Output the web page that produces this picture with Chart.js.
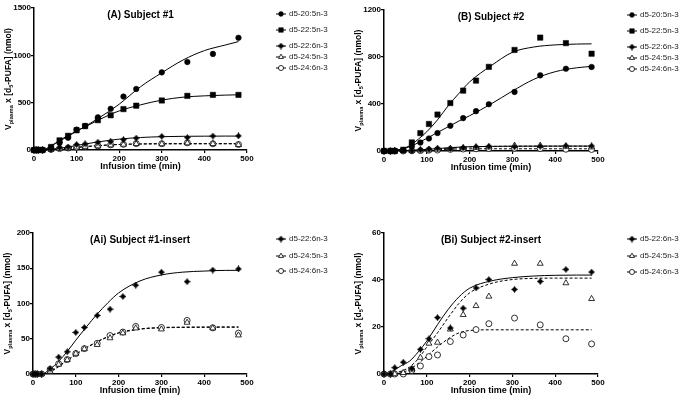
<!DOCTYPE html>
<html lang="en">
<head>
  <meta charset="UTF-8" />
  <title>d5-PUFA infusion</title>
  <script src="https://cdn.jsdelivr.net/npm/chart.js"></script>
  <style>
    body {
      margin: 0;
      background: #fff;
      width: 683px;
      height: 402px;
      position: relative;
      overflow: hidden;
    }
    canvas { position: absolute; }
  </style>
</head>
<body>
  <canvas id="chartA" width="340" height="200" style="left:0;top:0"></canvas>
  <canvas id="chartB" width="343" height="200" style="left:340px;top:0"></canvas>
  <canvas id="chartAi" width="340" height="202" style="left:0;top:200px"></canvas>
  <canvas id="chartBi" width="343" height="202" style="left:340px;top:200px"></canvas>

  <script>
    // sampling times (min)
    const timesS1 = [0, 5, 10, 20, 40, 60, 80, 100, 120, 150, 180, 210, 240, 300, 360, 420, 480];
    const timesS2 = [0, 15, 25, 45, 65, 85, 105, 125, 155, 185, 215, 245, 305, 365, 425, 485];

    // subject #1 measured values (nmol)
    const s1_205 = [0, 0, 0, 0, 25, 75, 130, 215, 255, 345, 435, 565, 645, 820, 930, 1015, 1185];
    const s1_225 = [0, 0, 0, 0, 32, 102, 150, 208, 252, 315, 367, 432, 468, 523, 572, 582, 582];
    const s1_226 = [0, 0, 0, 0, 7.5, 24, 31.5, 59, 66, 83, 92, 110, 126, 144.5, 131, 147.5, 149];
    const s1_245 = [0, 0, 0, 0, 3.5, 13.5, 20, 29, 35.5, 41.5, 51, 58, 65, 63.5, 73, 65, 55];
    const s1_246 = [0, 0, 0, 0, 6.5, 14.5, 20.5, 29, 36, 43.5, 54.5, 59.5, 67.5, 66, 76, 65.5, 58];

    // subject #2 measured values (nmol)
    const s2_205 = [0, 0, 0, 8, 38, 72, 107, 153, 215, 280, 339, 398, 503, 644, 700, 715];
    const s2_225 = [0, 0, 0, 10, 73, 152, 230, 310, 408, 514, 599, 716, 860, 965, 918, 828];
    const s2_226 = [0, 0, 2.7, 5, 2.3, 10.5, 15, 24, 19.6, 28, 36.6, 40.2, 36, 39.4, 44.5, 43.4];
    const s2_245 = [0, 0, 0, 0.5, 2, 7, 13, 13.4, 19, 25.2, 29, 33, 47, 47, 38.7, 32];
    const s2_246 = [0, 0, 0, 0, 1.5, 3.4, 7.4, 8.1, 13.8, 16.6, 18.9, 21.4, 23.8, 20.9, 15, 12.8];

    // fitted curves
    const fitT1 = [0, 20, 40, 60, 80, 100, 125, 150, 175, 200, 250, 300, 350, 400, 450, 480];
    const fit1_205 = [0, 0, 42, 95, 145, 198, 262, 332, 405, 484, 668, 816, 951, 1050, 1110, 1145];
    const fit1_225 = [0, 0, 42, 102, 152, 201, 256, 314, 367, 413, 477, 527, 558, 572, 580, 583];
    const fit1_226 = [0, 0, 7, 18, 32, 48, 67, 85, 101, 115, 132, 140.5, 144.5, 146, 147, 147];
    const fit1_245 = [0, 0, 3, 10.5, 19, 27.5, 37, 45.5, 52.5, 58, 63.5, 65.5, 66, 66.2, 66.3, 66.3];
    const fit1_246 = [0, 0, 3.5, 11, 19.5, 28, 37.5, 46, 53, 58.5, 64, 66, 66.5, 66.7, 66.8, 66.8];

    const fitT2 = [0, 20, 40, 60, 80, 100, 125, 150, 175, 200, 250, 300, 350, 400, 450, 485];
    const fit2_205 = [0, 3, 15, 37, 70, 107, 158, 206, 255, 300, 400, 510, 610, 675, 708, 720];
    const fit2_225 = [0, 3, 15, 45, 100, 164, 265, 385, 490, 588, 725, 840, 885, 903, 910, 912];
    const fit2_226 = [0, 1.3, 3.5, 5.5, 9.4, 14, 21, 27.5, 32.8, 36.5, 39.6, 41, 41.7, 42, 42.1, 42.1];
    const fit2_245 = [0, 0.3, 1.2, 3, 6.5, 11.5, 17.5, 24, 30, 34.5, 38.5, 40.2, 40.7, 40.8, 40.8, 40.8];
    const fit2_246 = [0, 0, 0.5, 2, 4.5, 7.5, 11.5, 15, 17.5, 18.5, 18.8, 18.8, 18.8, 18.8, 18.8, 18.8];

    const xTicks = [0, 100, 200, 300, 400, 500];

    function pts(xs, ys) {
      return xs.map((x, i) => ({ x: x, y: ys[i] }));
    }

    // filled 4-point star used for d5-22:6n-3
    function starImage(size) {
      const c = document.createElement('canvas');
      c.width = size; c.height = size;
      const g = c.getContext('2d');
      const m = size / 2, k = size * 0.2;
      g.beginPath();
      g.moveTo(m, 0); g.lineTo(m + k, m - k); g.lineTo(size, m); g.lineTo(m + k, m + k);
      g.lineTo(m, size); g.lineTo(m - k, m + k); g.lineTo(0, m); g.lineTo(m - k, m - k);
      g.closePath();
      g.fillStyle = '#000';
      g.fill();
      return c;
    }
    const STAR = starImage(7);

    const marks = {
      'd5-20:5n-3': { style: 'circle', r: 2.8, fill: '#000', bw: 0.5, dash: [] },
      'd5-22:5n-3': { style: 'rect', r: 3.8, fill: '#000', bw: 0.5, dash: [] },
      'd5-22:6n-3': { style: STAR, r: 3.5, fill: '#000', bw: 0, dash: [] },
      'd5-24:5n-3': { style: 'triangle', r: 3.4, fill: '#fff', bw: 0.8, dash: [3, 2] },
      'd5-24:6n-3': { style: 'circle', r: 3, fill: '#fff', bw: 0.8, dash: [3, 2] }
    };

    function buildDatasets(series) {
      const out = [];
      series.forEach(s => {
        const m = marks[s.label];
        out.push({
          label: s.label,
          data: pts(s.t, s.y),
          showLine: false,
          pointStyle: m.style,
          pointRadius: m.r,
          pointBackgroundColor: m.fill,
          pointBorderColor: '#000',
          pointBorderWidth: m.bw,
          clip: false,
          order: 1,
          legendMark: true
        });
        out.push({
          label: s.label + ' fit',
          data: pts(s.ft, s.fy),
          showLine: true,
          pointRadius: 0,
          borderColor: '#000',
          borderWidth: 1,
          borderDash: m.dash,
          cubicInterpolationMode: 'monotone',
          clip: false,
          order: 2
        });
      });
      return out;
    }

    function drawYTitle(ctx, x, y) {
      const parts = [
        ['V', 8.5, 0], ['plasma', 5.5, 2.5], [' x [d', 8.5, 0], ['5', 5.5, 2.5], ['-PUFA] (nmol)', 8.5, 0]
      ];
      let total = 0;
      parts.forEach(p => {
        ctx.font = 'bold ' + p[1] + 'px Arial, "Liberation Sans"';
        total += ctx.measureText(p[0]).width;
      });
      ctx.save();
      ctx.translate(x, y);
      ctx.rotate(-Math.PI / 2);
      ctx.textAlign = 'left';
      ctx.textBaseline = 'middle';
      let cx = -total / 2;
      parts.forEach(p => {
        ctx.font = 'bold ' + p[1] + 'px Arial, "Liberation Sans"';
        ctx.fillText(p[0], cx, p[2]);
        cx += ctx.measureText(p[0]).width;
      });
      ctx.restore();
    }

    const decor = {
      id: 'decor',
      afterDraw(chart, args, o) {
        const ctx = chart.ctx, a = chart.chartArea;
        const cx = (a.left + a.right) / 2;
        ctx.save();
        ctx.fillStyle = '#000';
        ctx.textAlign = 'center';
        ctx.textBaseline = 'middle';
        ctx.font = 'bold 10px Arial, "Liberation Sans"';
        ctx.fillText(o.title, cx, a.top + 7);
        ctx.font = 'bold 9px Arial, "Liberation Sans"';
        ctx.fillText('Infusion time (min)', cx, a.bottom + 17);
        drawYTitle(ctx, a.left - 25, (a.top + a.bottom) / 2);

        // legend
        const items = chart.data.datasets.filter(d => d.legendMark);
        const lx = a.right + 34;
        items.forEach((d, i) => {
          const ly = o.legendY[i];
          ctx.strokeStyle = '#000';
          ctx.lineWidth = 1;
          ctx.setLineDash([]);
          ctx.beginPath();
          ctx.moveTo(lx - 5, ly);
          ctx.lineTo(lx + 5, ly);
          ctx.stroke();
          ctx.fillStyle = d.pointBackgroundColor;
          ctx.lineWidth = d.pointBorderWidth;
          if (Chart.helpers && Chart.helpers.drawPoint) {
            Chart.helpers.drawPoint(ctx, {
              pointStyle: d.pointStyle, radius: d.pointRadius * 0.85,
              borderWidth: d.pointBorderWidth, rotation: 0
            }, lx, ly);
          }
          ctx.fillStyle = '#222';
          ctx.textAlign = 'left';
          ctx.font = '8px Arial, "Liberation Sans"';
          ctx.fillText(d.label, lx + 8, ly);
        });
        ctx.restore();
      }
    };

    function makePanel(id, p) {
      const canvas = document.getElementById(id);
      const W = canvas.width, H = canvas.height;
      const tickFont = { family: 'Arial, "Liberation Sans"', size: 8, weight: 'bold' };
      return new Chart(canvas, {
        type: 'scatter',
        data: { datasets: buildDatasets(p.series) },
        options: {
          responsive: false,
          animation: false,
          layout: { padding: { left: 0, top: p.box[1], right: W - p.box[2], bottom: 0 } },
          plugins: {
            legend: { display: false },
            tooltip: { enabled: false },
            decor: { title: p.title, legendY: p.legendY }
          },
          scales: {
            x: {
              type: 'linear', min: 0, max: 500,
              afterBuildTicks: s => { s.ticks = xTicks.map(v => ({ value: v })); },
              ticks: { font: tickFont, color: '#000', padding: 1, maxRotation: 0, callback: v => String(v) },
              grid: { drawOnChartArea: false, color: '#000', tickLength: 3, lineWidth: 1.2 },
              border: { color: '#000', width: 1.5 },
              afterFit: s => { s.height = H - p.box[3]; }
            },
            y: {
              type: 'linear', min: 0, max: p.yMax,
              afterBuildTicks: s => { s.ticks = p.yTicks.map(v => ({ value: v })); },
              ticks: { font: tickFont, color: '#000', padding: 0, callback: v => String(v) },
              grid: { drawOnChartArea: false, color: '#000', tickLength: 3, lineWidth: 1.2 },
              border: { color: '#000', width: 1.5 },
              afterFit: s => { s.width = p.box[0]; }
            }
          }
        },
        plugins: [decor]
      });
    }

    const s1All = [
      { label: 'd5-20:5n-3', t: timesS1, y: s1_205, ft: fitT1, fy: fit1_205 },
      { label: 'd5-22:5n-3', t: timesS1, y: s1_225, ft: fitT1, fy: fit1_225 },
      { label: 'd5-22:6n-3', t: timesS1, y: s1_226, ft: fitT1, fy: fit1_226 },
      { label: 'd5-24:5n-3', t: timesS1, y: s1_245, ft: fitT1, fy: fit1_245 },
      { label: 'd5-24:6n-3', t: timesS1, y: s1_246, ft: fitT1, fy: fit1_246 }
    ];
    const s2All = [
      { label: 'd5-20:5n-3', t: timesS2, y: s2_205, ft: fitT2, fy: fit2_205 },
      { label: 'd5-22:5n-3', t: timesS2, y: s2_225, ft: fitT2, fy: fit2_225 },
      { label: 'd5-22:6n-3', t: timesS2, y: s2_226, ft: fitT2, fy: fit2_226 },
      { label: 'd5-24:5n-3', t: timesS2, y: s2_245, ft: fitT2, fy: fit2_245 },
      { label: 'd5-24:6n-3', t: timesS2, y: s2_246, ft: fitT2, fy: fit2_246 }
    ];

    makePanel('chartA', {
      title: '(A) Subject #1', box: [34, 8, 247, 150],
      yMax: 1500, yTicks: [0, 500, 1000, 1500],
      series: s1All, legendY: [14, 30, 46, 57, 68]
    });
    makePanel('chartB', {
      title: '(B) Subject #2', box: [44, 10, 258, 151],
      yMax: 1200, yTicks: [0, 400, 800, 1200],
      series: s2All, legendY: [15, 31, 47, 58, 69]
    });
    makePanel('chartAi', {
      title: '(Ai) Subject #1-insert', box: [33, 33, 247, 174],
      yMax: 200, yTicks: [0, 50, 100, 150, 200],
      series: s1All.slice(2), legendY: [39, 56, 71]
    });
    makePanel('chartBi', {
      title: '(Bi) Subject #2-insert', box: [44, 33, 258, 174],
      yMax: 60, yTicks: [0, 20, 40, 60],
      series: s2All.slice(2), legendY: [39, 56, 72]
    });
  </script>
</body>
</html>
